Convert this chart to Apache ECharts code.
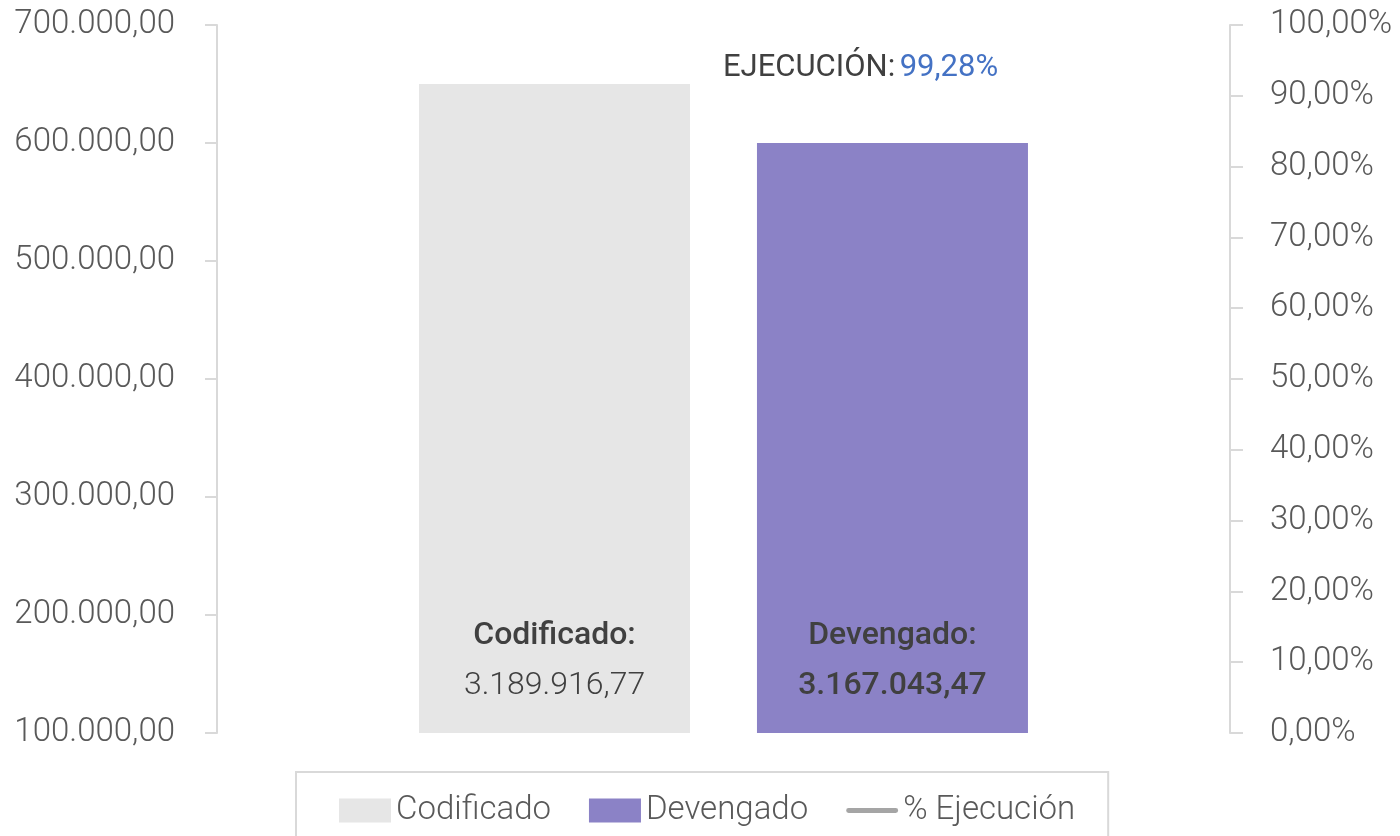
<!DOCTYPE html>
<html>
<head>
<meta charset="utf-8">
<script src="https://cdn.jsdelivr.net/npm/echarts@6/dist/echarts.min.js"></script>
<style>
  html, body { margin: 0; padding: 0; background: #fff; }
  #chart { width: 1400px; height: 836px; }
</style>
</head>
<body>
<div id="chart"></div>
<script>
const FONT = "Roboto, 'Liberation Sans', sans-serif";

const categories = ["Presupuesto"];
const codificadoValues = [650000];
const devengadoValues = [600000];
const ejecucionValues = [99.28];
const codificadoLabel = ["Codificado:", "3.189.916,77"];
const devengadoLabel = ["Devengado:", "3.167.043,47"];
const ejecucionText = "99,28%";

// 700000 -> "700.000,00"
const fmtNum = (v) => {
  const s = Math.round(v).toString().replace(/\B(?=(\d{3})+(?!\d))/g, ".");
  return s + ",00";
};
const fmtPct = (v) => v.toFixed(2).replace(".", ",") + "%";

const chart = echarts.init(document.getElementById("chart"), null, { renderer: "canvas" });

chart.setOption({
  animation: false,
  textStyle: { fontFamily: FONT },
  title: {
    text: "{k|EJECUCIÓN:} {v|" + ejecucionText + "}",
    left: 718,
    top: 48,
    textStyle: {
      rich: {
        k: { fontFamily: FONT, fontSize: 31, fontWeight: 400, color: "#404040" },
        v: { fontFamily: FONT, fontSize: 31, fontWeight: 400, color: "#4472c4" },
      },
    },
  },
  grid: { left: 217, right: 170, top: 25, bottom: 103, outerBoundsMode: "none" },
  legend: {
    data: [
      { name: "Codificado", icon: "rect" },
      { name: "Devengado", icon: "rect" },
      {
        name: "% Ejecución",
        icon: "path://M0,0L0.01,0Z M2,9.5L50,9.5A2.5,2.5,0,0,1,50,14.5L2,14.5A2.5,2.5,0,0,1,2,9.5Z M0,24L0.01,24Z",
        itemStyle: { color: "#a5a5a5" },
      },
    ],
    left: 296,
    top: 772,
    padding: [22, 33, 30, 43],
    itemWidth: 52,
    itemHeight: 24,
    itemGap: 38,
    borderColor: "#d9d9d9",
    borderWidth: 2,
    textStyle: { fontFamily: FONT, fontSize: 33, fontWeight: 300, color: "#595959", lineHeight: 24 },
  },
  xAxis: {
    type: "category",
    data: categories,
    axisLine: { show: false },
    axisTick: { show: false },
    axisLabel: { show: false },
  },
  yAxis: [
    {
      type: "value",
      min: 100000,
      max: 700000,
      interval: 100000,
      axisLine: { show: true, lineStyle: { color: "#d9d9d9", width: 2 } },
      axisTick: { show: true, length: 12, lineStyle: { color: "#d9d9d9", width: 2 } },
      splitLine: { show: false },
      axisLabel: {
        margin: 42,
        fontFamily: FONT,
        fontSize: 33,
        fontWeight: 300,
        color: "#595959",
        formatter: (v) => fmtNum(v),
      },
    },
    {
      type: "value",
      min: 0,
      max: 100,
      interval: 10,
      position: "right",
      axisLine: { show: true, lineStyle: { color: "#d9d9d9", width: 2 } },
      axisTick: { show: true, length: 13, lineStyle: { color: "#d9d9d9", width: 2 } },
      splitLine: { show: false },
      axisLabel: {
        margin: 40,
        fontFamily: FONT,
        fontSize: 33,
        fontWeight: 300,
        color: "#595959",
        formatter: (v) => fmtPct(v),
      },
    },
  ],
  series: [
    {
      name: "Codificado",
      type: "bar",
      data: codificadoValues,
      barWidth: 271,
      barGap: "24.7%",
      itemStyle: { color: "#e6e6e6" },
      label: {
        show: true,
        position: "insideBottom",
        distance: 22,
        formatter: "{a|" + codificadoLabel[0] + "}\n{b|" + codificadoLabel[1] + "}",
        rich: {
          a: { fontFamily: FONT, fontSize: 32, fontWeight: 500, color: "#404040", lineHeight: 50 },
          b: { fontFamily: FONT, fontSize: 32, fontWeight: 300, color: "#404040", lineHeight: 50 },
        },
      },
    },
    {
      name: "Devengado",
      type: "bar",
      data: devengadoValues,
      barWidth: 271,
      itemStyle: { color: "#8b82c6" },
      label: {
        show: true,
        position: "insideBottom",
        distance: 22,
        formatter: "{a|" + devengadoLabel[0] + "}\n{b|" + devengadoLabel[1] + "}",
        rich: {
          a: { fontFamily: FONT, fontSize: 32, fontWeight: 500, color: "#404040", lineHeight: 50 },
          b: { fontFamily: FONT, fontSize: 32, fontWeight: 500, color: "#404040", lineHeight: 50 },
        },
      },
    },
    {
      name: "% Ejecución",
      type: "line",
      yAxisIndex: 1,
      data: ejecucionValues,
      symbol: "none",
      lineStyle: { color: "#a5a5a5", width: 5 },
      itemStyle: { color: "#a5a5a5" },
    },
  ],
});
</script>
</body>
</html>
